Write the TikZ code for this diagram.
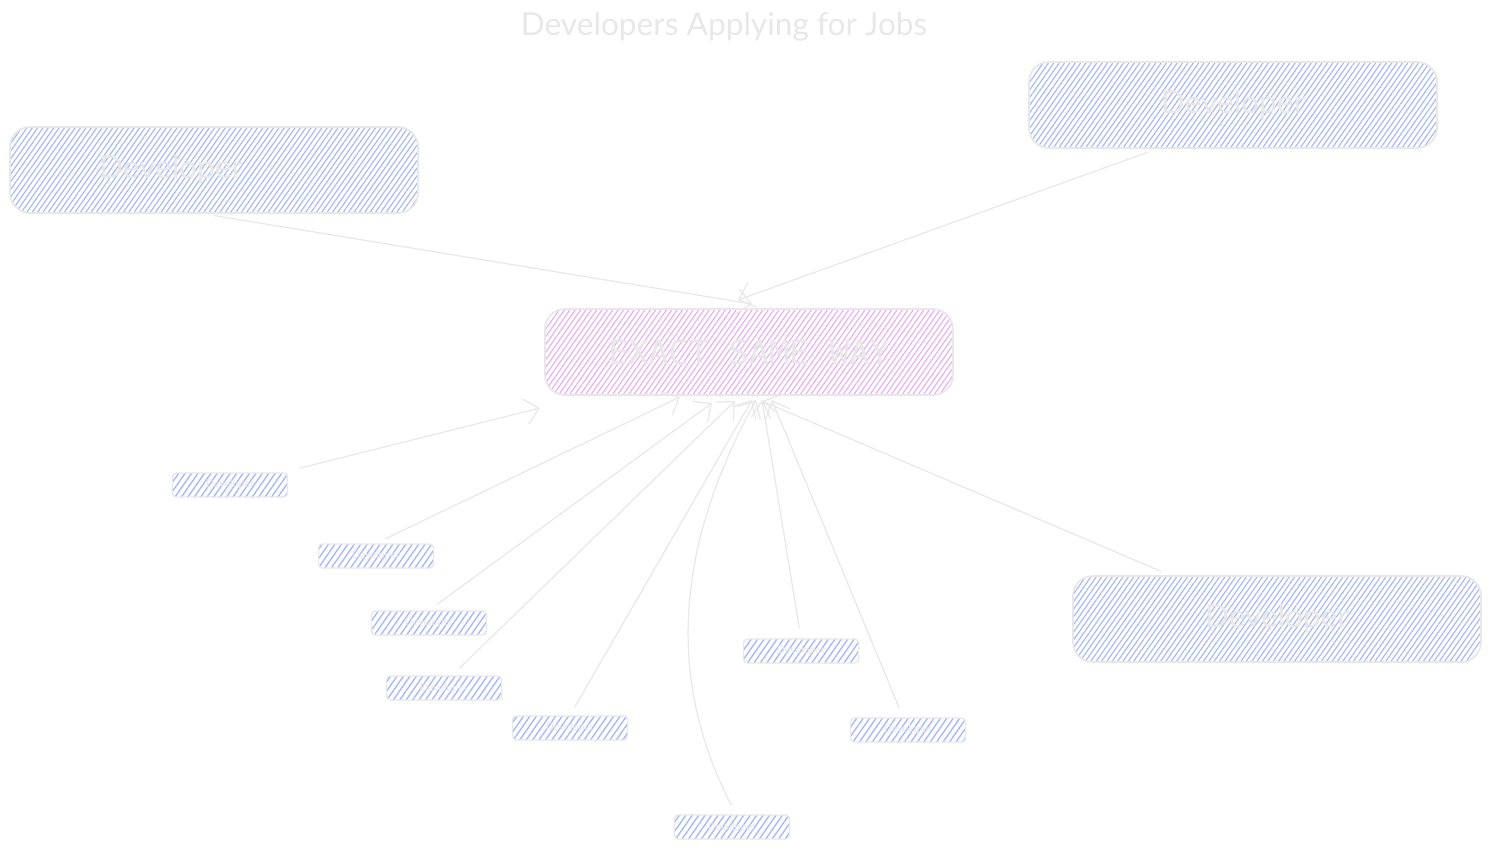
\documentclass[tikz,border=0pt]{standalone}
\usepackage{fontspec}
\setmainfont{Lato}
\setmonofont{DejaVu Sans Mono}
\usepackage{xcolor}
\usetikzlibrary{patterns.meta,arrows.meta}

\definecolor{inkgray}{RGB}{232,232,232}
\definecolor{hatchblue}{RGB}{165,182,252}
\definecolor{hatchpink}{RGB}{232,172,245}

\begin{document}
\begin{tikzpicture}[x=1cm, y=1cm]
        \tikzset{devbox/.style={
            draw = inkgray,
            line width = 0.5pt,
            rounded corners = 0.2cm,
            minimum width = 4.08cm,
            minimum height = 0.86cm,
            inner sep = 0pt,
            text = inkgray,
            font = \fontsize{9}{9}\selectfont,
            pattern = {Lines[angle=55, distance=1.25pt, line width=0.32pt]},
            pattern color = #1,
        }}
        \tikzset{tinybox/.style={
            draw = inkgray,
            line width = 0.4pt,
            rounded corners = 0.04cm,
            minimum width = 1.15cm,
            minimum height = 0.24cm,
            inner sep = 0pt,
            text = inkgray,
            font = \fontsize{3}{3}\selectfont,
            pattern = {Lines[angle=55, distance=1.5pt, line width=0.38pt]},
            pattern color = hatchblue,
        }}
        \tikzset{arrow/.style={
            draw = inkgray,
            line width = 0.35pt,
            -{Straight Barb[length=1.4mm, width=2.6mm]},
            shorten <= 0.1cm,
        }}
        \useasboundingbox (0, 0) rectangle (14.9, -8.48);

        \node[text = inkgray, font = \fontsize{9}{9}\selectfont] (title) at (7.24, -0.27) {Developers Applying for Jobs};

        % developers and the target box
        \node[devbox = hatchpink, font = \ttfamily\fontsize{9.5}{9.5}\selectfont] (way) at (7.49, -3.52) {EXACT SAME WAY};
        \node[devbox = hatchblue] (dev1) at (2.14, -1.70) {\hspace*{-0.86cm}Developer};
        \node[devbox = hatchblue] (dev2) at (12.33, -1.05) {Developer};
        \node[devbox = hatchblue] (dev3) at (12.77, -6.19) {Developer};

        % small ones
        \node[tinybox] (s1) at (2.30, -4.85) {Developer};
        \node[tinybox] (s2) at (3.76, -5.56) {Developer};
        \node[tinybox] (s3) at (4.29, -6.23) {Developer};
        \node[tinybox] (s4) at (4.44, -6.88) {Developer};
        \node[tinybox] (s5) at (5.70, -7.28) {Developer};
        \node[tinybox] (s6) at (8.01, -6.51) {Developer};
        \node[tinybox] (s7) at (9.08, -7.30) {Developer};
        \node[tinybox] (s8) at (7.32, -8.27) {Developer};

        % arrow tips near the target
        \coordinate (t1) at (7.52, -3.04);
        \coordinate (t2) at (7.38, -3.00);
        \coordinate (t3) at (7.62, -4.01);
        \coordinate (u1) at (5.40, -4.08);
        \coordinate (u2) at (6.80, -3.97);
        \coordinate (u3) at (7.12, -4.03);
        \coordinate (u4) at (7.35, -4.01);
        \coordinate (u5) at (7.52, -4.00);
        \coordinate (u6) at (7.62, -4.00);
        \coordinate (u7) at (7.72, -4.00);
        \coordinate (u8) at (7.56, -4.00);

        \draw[arrow] ([xshift=-0.1cm]dev1.south) -- (t1);
        \draw[arrow] ([xshift=-0.76cm]dev2.south) -- (t2);
        \draw[arrow] ([xshift=-1.07cm]dev3.north) -- (t3);
        \draw[arrow, shorten <= 0.17cm] ([xshift=-0.05cm]s1.north east) -- (u1);
        \draw[arrow] (s2.north) -- (u2);
        \draw[arrow] (s3.north) -- (u3);
        \draw[arrow] ([xshift=0.08cm]s4.north) -- (u4);
        \draw[arrow] (s5.north) -- (u5);
        \draw[arrow] (s6.north) -- (u6);
        \draw[arrow] ([xshift=-0.05cm]s7.north) -- (u7);
        \draw[arrow] ([xshift=0.04cm]s8.north) .. controls (6.72, -6.9) and (6.68, -5.6) .. (u8);
\end{tikzpicture}
\end{document}
